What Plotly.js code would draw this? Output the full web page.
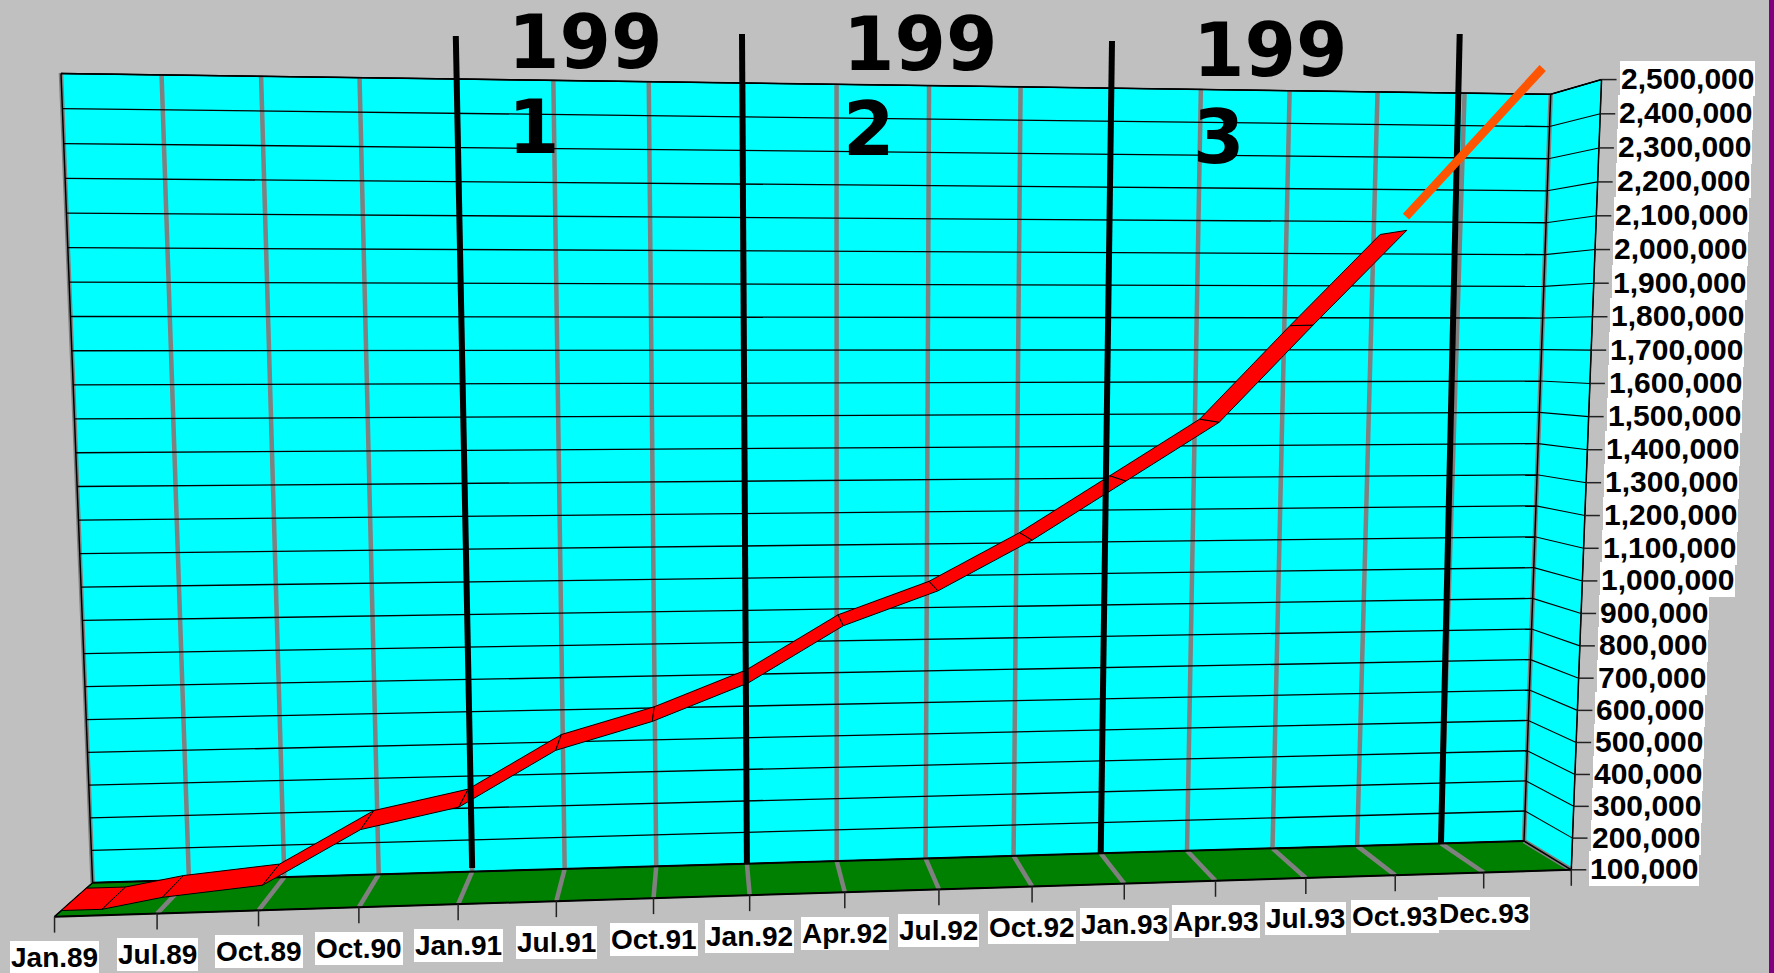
<!DOCTYPE html>
<html><head><meta charset="utf-8">
<script src="https://cdn.plot.ly/plotly-3.0.1.min.js"></script>
<style>html,body{margin:0;padding:0;background:#c0c0c0;overflow:hidden}#c{width:1774px;height:973px}</style></head>
<body><div id="c"></div><script>
// ---- data ----
const categories=['Jan.89','Jul.89','Oct.89','Oct.90','Jan.91','Jul.91','Oct.91','Jan.92','Apr.92','Jul.92','Oct.92','Jan.93','Apr.93','Jul.93','Oct.93','Dec.93'];
const valueTicks=[100000,200000,300000,400000,500000,600000,700000,800000,900000,1000000,1100000,1200000,1300000,1400000,1500000,1600000,1700000,1800000,1900000,2000000,2100000,2200000,2300000,2400000,2500000];
const seriesPositions=[0,0.4,1,2,3,4,5,6,7,8,9,10,11,12,13,14];
const seriesValues=[100000,100000,130000,157000,314000,373000,535000,615000,724000,890000,990000,1138000,1312000,1486000,1775000,2057000];
const yearDividers=[4,7,11,15];
const yearLabels=['199','199','199'];
const yearSuffix=['1','2','3'];

// ---- perspective of the 3-D box ----
const BL=[92.6,882.7],BR=[1524,841],TR=[1550.7,94.3],TL=[61,73.5],FL=[54.7,916.7],FR=[1571,870],FTR=[1601.7,79.3];
const NU=16,VMIN=100000,VMAX=2500000,D0=0.17,D1=0.83;
function solve(A,b){const n=b.length,M=A.map((r,i)=>[...r,b[i]]);for(let i=0;i<n;i++){let p=i;for(let k=i;k<n;k++)if(Math.abs(M[k][i])>Math.abs(M[p][i]))p=k;[M[i],M[p]]=[M[p],M[i]];for(let k=0;k<n;k++)if(k!==i){const f=M[k][i]/M[i][i];for(let j=i;j<=n;j++)M[k][j]-=f*M[i][j];}}return M.map((r,i)=>r[n]/r[i]);}
let A=[],b=[];[[0,0,BL],[1,0,BR],[1,1,TR],[0,1,TL]].forEach(([u,v,[X,Y]])=>{A.push([u,v,1,0,0,0,-u*X,-v*X]);b.push(X);A.push([0,0,0,u,v,1,-u*Y,-v*Y]);b.push(Y);});
const h=solve(A,b),p1=[h[0],h[3],h[6]],p2=[h[1],h[4],h[7]],p4=[h[2],h[5],1];
let NA=[[0,0,0],[0,0,0],[0,0,0]],Nb=[0,0,0];
[[0,0,FL],[1,0,FR],[1,1,FTR]].forEach(([u,v,[X,Y]])=>{const base=[0,1,2].map(i=>u*p1[i]+v*p2[i]+p4[i]);
 [[X,0],[Y,1]].forEach(([T,k])=>{const row=[k==0?1:0,k==1?1:0,-T],r=T*base[2]-base[k];for(let i=0;i<3;i++){Nb[i]+=row[i]*r;for(let j=0;j<3;j++)NA[i][j]+=row[i]*row[j];}});});
const p3=solve(NA,Nb);
const proj=(u,val,d)=>{const U=u/NU,V=(val-VMIN)/(VMAX-VMIN),q=[0,1,2].map(i=>U*p1[i]+V*p2[i]+d*p3[i]+p4[i]);return [q[0]/q[2],q[1]/q[2]];};

// ---- traces ----
const tr=[];
const poly=(pts,fill,w=1)=>tr.push({x:[...pts.map(p=>p[0]),pts[0][0]],y:[...pts.map(p=>p[1]),pts[0][1]],mode:'lines',fill:'toself',fillcolor:fill,line:{color:'#000',width:w},hoverinfo:'skip'});
const segs=(list,color,w)=>{const x=[],y=[];list.forEach(([a,c])=>{x.push(a[0],c[0],null);y.push(a[1],c[1],null);});tr.push({x,y,mode:'lines',line:{color,width:w},hoverinfo:'skip'});};

poly([proj(0,VMIN,0),proj(NU,VMIN,0),proj(NU,VMAX,0),proj(0,VMAX,0)],'#00ffff');
poly([proj(NU,VMIN,0),proj(NU,VMIN,1),proj(NU,VMAX,1),proj(NU,VMAX,0)],'#00ffff');
poly([proj(0,VMIN,0),proj(NU,VMIN,0),proj(NU,VMIN,1),proj(0,VMIN,1)],'#008000');

// gray category lines on wall and floor
const grayWall=[],grayFloor=[];
for(let i=0;i<=NU;i++){grayWall.push([proj(i,VMIN,0),proj(i,VMAX+2000,0)]);if(i>0)grayFloor.push([proj(i,VMIN,0),proj(i,VMIN,1)]);}
segs(grayWall,'#808080',4.5);segs(grayFloor,'#808080',4.5);
// value gridlines on back wall and side wall
segs(valueTicks.slice(1).map(v=>[proj(0,v,0),proj(NU,v,0)]),'#000',1.3);
segs(valueTicks.slice(1).map(v=>[proj(NU,v,0),proj(NU,v,1)]),'#000',1.1);
// box edges
segs([[proj(0,VMIN,0),proj(0,VMAX,0)],[proj(NU,VMIN,0),proj(NU,VMAX,0)],[proj(NU,VMIN,0),proj(NU,VMIN,1)],[proj(0,VMIN,0),proj(0,VMIN,1)]],'#000',1.5);
segs([[proj(0,VMIN,0),proj(NU,VMIN,0)],[proj(0,VMIN,1),proj(NU,VMIN,1)]],'#000',2);
segs([[proj(0,VMAX,0),proj(NU,VMAX,0)],[proj(NU,VMAX,0),proj(NU,VMAX,1)],[proj(NU,VMAX,1),proj(NU,VMIN,1)]],'#000',1.5);
// ticks
const xt=[];for(let i=0;i<=NU;i++){const a=proj(i,VMIN,1);xt.push([a,[a[0],a[1]+16]]);}
segs(xt,'#222',1.5);
segs(valueTicks.map(v=>{const a=proj(NU,v,1);return [a,[a[0]+15,a[1]]];}),'#222',1.5);

// ribbon
for(let i=0;i<seriesValues.length-1;i++){
 const u0=seriesPositions[i],u1=seriesPositions[i+1],v0=seriesValues[i],v1=seriesValues[i+1];
 poly([proj(u0,v0,D0),proj(u1,v1,D0),proj(u1,v1,D1),proj(u0,v0,D1)],'#ff0000',1);
}
// year divider lines (hand-drawn over the chart)
const dividerTop=[[455.8,36],[742,34],[1112,41],[1459.7,34]];
const dividerBottomY=[868,863,854,844];
yearDividers.forEach((u,i)=>{const a=proj(u,VMIN,0);tr.push({x:[dividerTop[i][0],a[0]],y:[dividerTop[i][1],dividerBottomY[i]],mode:'lines',line:{color:'#000',width:6},hoverinfo:'skip'});});
// orange trend stroke
tr.push({x:[1406,1542.7],y:[216.7,68],mode:'lines',line:{color:'#ff5500',width:8.5},hoverinfo:'skip'});

// ---- text ----
const ann=[];
const lblFont=s=>({family:'Liberation Sans, Arial, sans-serif',size:s,color:'#000'});
categories.forEach((c,i)=>{const a=proj(i,VMIN,1);ann.push({x:a[0],y:a[1]+16+25,text:'<b>'+c+'</b>',showarrow:false,xanchor:'center',yanchor:'middle',font:lblFont(28),bgcolor:'#fff',borderpad:1,borderwidth:0});});
valueTicks.forEach(v=>{const a=proj(NU,v,1);ann.push({x:a[0]+18,y:a[1]-1,text:'<b>'+v.toLocaleString('en-US')+'</b>',showarrow:false,xanchor:'left',yanchor:'middle',font:lblFont(30),bgcolor:'#fff',borderpad:1,borderwidth:0});});
const yrX=[506,841,1191],yrY1=[42,44,50],yrY2=[127,129,137];
const yrFont={family:'DejaVu Sans, sans-serif',size:74,color:'#000'};
yearLabels.forEach((t,i)=>{
 ann.push({x:yrX[i],y:yrY1[i],text:'<b>'+t+'</b>',showarrow:false,xanchor:'left',yanchor:'middle',font:yrFont});
 ann.push({x:yrX[i],y:yrY2[i],text:'<b>'+yearSuffix[i]+'</b>',showarrow:false,xanchor:'left',yanchor:'middle',font:yrFont});
});

Plotly.newPlot('c',tr,{width:1774,height:973,margin:{l:0,r:0,t:0,b:0},paper_bgcolor:'#c0c0c0',plot_bgcolor:'#c0c0c0',showlegend:false,hovermode:false,
 xaxis:{range:[0,1774],visible:false,fixedrange:true},yaxis:{range:[973,0],visible:false,fixedrange:true},
 shapes:[{type:'rect',xref:'x',yref:'y',x0:1769,x1:1774,y0:0,y1:973,fillcolor:'#800080',line:{width:0},layer:'below'}],
 annotations:ann},{displayModeBar:false,staticPlot:true});
</script></body></html>
